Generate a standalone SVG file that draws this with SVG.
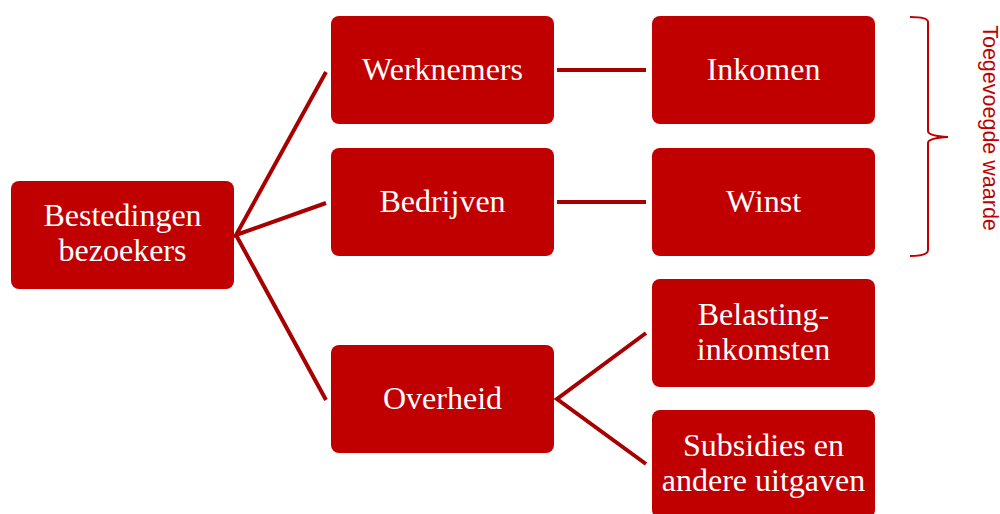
<svg xmlns="http://www.w3.org/2000/svg" width="1000" height="514" viewBox="0 0 1000 514">
<style>
.box{fill:#c00000}
.t{font-family:"Liberation Serif",serif;font-size:32px;fill:#ffffff;text-anchor:middle}
.c{stroke:#a80000;stroke-width:4;fill:none}
.lbl{font-family:"Liberation Sans",sans-serif;font-size:21.5px;fill:#c00000;text-anchor:middle}
</style>
<rect width="1000" height="514" fill="#ffffff"/>
<g id="connectors">
<path class="c" d="M326,72 L236,235 L326,203 M236,235 L326,400"/>
<path class="c" d="M557,70 L646,70"/>
<path class="c" d="M557,202 L646,202"/>
<path class="c" d="M646,333 L557,399 L646,464"/>
</g>
<g id="root"><rect class="box" x="11" y="181" width="223" height="108" rx="8"/><text class="t" x="122.5" y="226">Bestedingen</text><text class="t" x="122.5" y="261">bezoekers</text></g>
<g id="werknemers"><rect class="box" x="331" y="16" width="223" height="108" rx="8"/><text class="t" x="442.5" y="80">Werknemers</text></g>
<g id="bedrijven"><rect class="box" x="331" y="148" width="223" height="108" rx="8"/><text class="t" x="442.5" y="212">Bedrijven</text></g>
<g id="overheid"><rect class="box" x="331" y="345" width="223" height="108" rx="8"/><text class="t" x="442.5" y="409">Overheid</text></g>
<g id="inkomen"><rect class="box" x="652" y="16" width="223" height="108" rx="8"/><text class="t" x="763.5" y="80">Inkomen</text></g>
<g id="winst"><rect class="box" x="652" y="148" width="223" height="108" rx="8"/><text class="t" x="763.5" y="212">Winst</text></g>
<g id="belasting"><rect class="box" x="652" y="279" width="223" height="108" rx="8"/><text class="t" x="763.5" y="325">Belasting-</text><text class="t" x="763.5" y="360">inkomsten</text></g>
<g id="subsidies"><rect class="box" x="652" y="410" width="223" height="108" rx="8"/><text class="t" x="763.5" y="456">Subsidies en</text><text class="t" x="763.5" y="491">andere uitgaven</text></g>
<g id="brace">
<path d="M910,17 Q928,17 928,22 L928,131 Q928,136 948,137 Q928,138 928,143 L928,250 Q928,256 910,256" fill="none" stroke="#c00000" stroke-width="2"/>
<text class="lbl" transform="translate(983,128) rotate(90)">Toegevoegde waarde</text>
</g>
</svg>
